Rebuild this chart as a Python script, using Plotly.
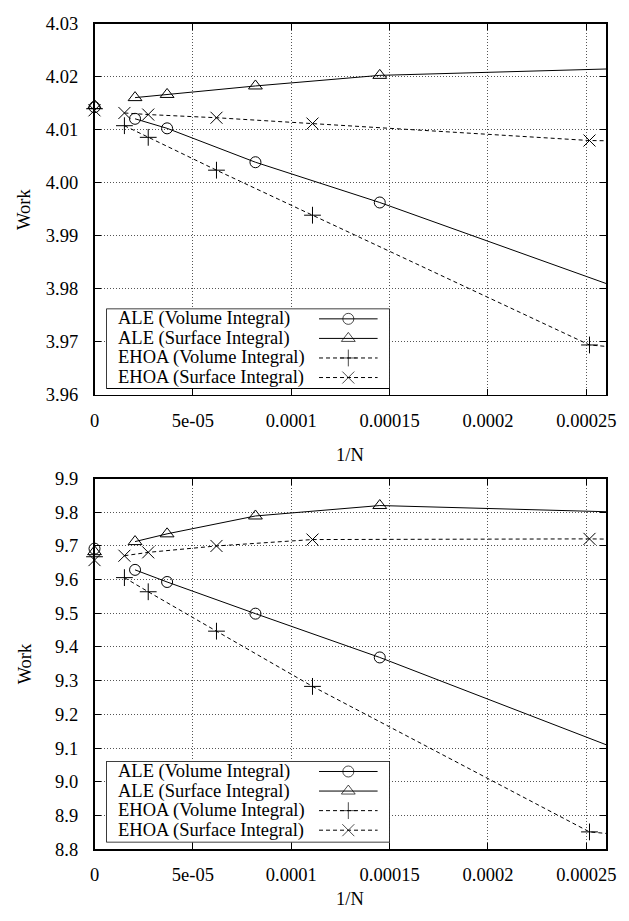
import plotly.graph_objects as go

W, H = 629, 921

# ---------------- data ----------------
x_zero = [0.0]
top_zero = {"ale_vol": 4.0143, "ale_surf": 4.0146, "ehoa_vol": 4.0140, "ehoa_surf": 4.0137}
bot_zero = {"ale_vol": 9.692, "ale_surf": 9.683, "ehoa_vol": 9.668, "ehoa_surf": 9.658}

x_ale = [2.06e-5, 3.69e-5, 8.18e-5, 1.45e-4, 3.27e-4]
x_ehoa = [1.52e-5, 2.73e-5, 6.20e-5, 1.108e-4, 2.516e-4, 5.7e-4]

top_ale_vol = [4.0121, 4.0103, 4.0039, 3.9963, 3.9721]
top_ale_surf = [4.0161, 4.0167, 4.0183, 4.0203, 4.0222]
top_ehoa_vol = [4.0108, 4.0086, 4.0024, 3.9939, 3.9694, 3.9592]
top_ehoa_surf = [4.0132, 4.0129, 4.0123, 4.0112, 4.0080, 4.0062]

bot_ale_vol = [9.629, 9.593, 9.499, 9.369, 8.959]
bot_ale_surf = [9.713, 9.736, 9.789, 9.820, 9.791]
bot_ehoa_vol = [9.606, 9.564, 9.447, 9.283, 8.851, 8.68]
bot_ehoa_surf = [9.671, 9.681, 9.700, 9.719, 9.721, 9.70]

x_ticks = [0, 5e-5, 1e-4, 1.5e-4, 2e-4, 2.5e-4]
x_ticktext = ["0", "5e-05", "0.0001", "0.00015", "0.0002", "0.00025"]
top_yticks = [3.96, 3.97, 3.98, 3.99, 4.00, 4.01, 4.02, 4.03]
top_yticktext = ["3.96", "3.97", "3.98", "3.99", "4.00", "4.01", "4.02", "4.03"]
bot_yticks = [8.8, 8.9, 9.0, 9.1, 9.2, 9.3, 9.4, 9.5, 9.6, 9.7, 9.8, 9.9]
bot_yticktext = ["8.8", "8.9", "9.0", "9.1", "9.2", "9.3", "9.4", "9.5", "9.6", "9.7", "9.8", "9.9"]

legend_names = ["ALE (Volume Integral)", "ALE (Surface Integral)",
                "EHOA (Volume Integral)", "EHOA (Surface Integral)"]

# ---------------- styles ----------------
FONT = "Liberation Serif, Times New Roman, DejaVu Serif, serif"
FS = 18.5
series_style = [
    dict(symbol="circle-open", size=11, dash="solid"),
    dict(symbol="triangle-up-open", size=12, dash="solid"),
    dict(symbol="cross-thin-open", size=12, dash="4px,3px"),
    dict(symbol="x-thin-open", size=12, dash="4px,3px"),
]
keys = ["ale_vol", "ale_surf", "ehoa_vol", "ehoa_surf"]

def px_x(p):
    return p / W

def px_y(p):
    return 1 - p / H

plot_left, plot_right = 91.7, 615.7
panels = [
    dict(top=14.3, bottom=393.3, yr=[3.96, 4.03], yt=top_yticks, ytt=top_yticktext,
         zero=top_zero, series=[top_ale_vol, top_ale_surf, top_ehoa_vol, top_ehoa_surf],
         leg=(103.7, 394.3, 305.0, 387.3), xt_y=455),
    dict(top=479.0, bottom=857.7, yr=[8.8, 9.9], yt=bot_yticks, ytt=bot_yticktext,
         zero=bot_zero, series=[bot_ale_vol, bot_ale_surf, bot_ehoa_vol, bot_ehoa_surf],
         leg=(103.7, 394.3, 767.7, 851.0), xt_y=909),
]

fig = go.Figure()
layout = dict(width=W, height=H, margin=dict(l=0, r=0, t=0, b=0),
              paper_bgcolor="white", plot_bgcolor="rgba(0,0,0,0)", showlegend=False,
              font=dict(family=FONT, size=FS, color="black"))
annotations = []
shapes = []

for i, p in enumerate(panels):
    xa = "x" if i == 0 else f"x{2*i+1}"
    ya = "y" if i == 0 else f"y{2*i+1}"
    lx = f"x{2*i+2}"
    ly = f"y{2*i+2}"
    xs = [x_ale, x_ale, x_ehoa, x_ehoa]
    for k, (key, st) in enumerate(zip(keys, series_style)):
        fig.add_trace(go.Scatter(
            x=xs[k], y=p["series"][k], mode="lines+markers", xaxis=xa, yaxis=ya,
            line=dict(color="black", width=1, dash=st["dash"]),
            marker=dict(symbol=st["symbol"], size=st["size"], color="black",
                        line=dict(color="black", width=1)),
            cliponaxis=True))
        fig.add_trace(go.Scatter(
            x=x_zero, y=[p["zero"][key]], mode="markers", xaxis=xa, yaxis=ya,
            marker=dict(symbol=st["symbol"], size=st["size"], color="black",
                        line=dict(color="black", width=1)),
            cliponaxis=False))
    dom_y = [px_y(p["bottom"]), px_y(p["top"])]
    axkey_x = "xaxis" if i == 0 else f"xaxis{2*i+1}"
    axkey_y = "yaxis" if i == 0 else f"yaxis{2*i+1}"
    common = dict(ticks="inside", ticklen=6, tickcolor="black", mirror="ticks",
                  showline=True, linecolor="black", linewidth=1.6,
                  showgrid=True, gridcolor="#555", griddash="1px,2px", gridwidth=1,
                  zeroline=False, tickfont=dict(family=FONT, size=FS))
    layout[axkey_x] = dict(domain=[px_x(plot_left), px_x(plot_right)], anchor=ya,
                           range=[0, 2.6e-4], tickvals=x_ticks, ticktext=x_ticktext,
                           ticklabelstandoff=8, **common)
    layout[axkey_y] = dict(domain=dom_y, anchor=xa, range=p["yr"],
                           tickvals=p["yt"], ticktext=p["ytt"],
                           ticklabelstandoff=11, **common)
    annotations.append(dict(text="Work", xref="paper", yref="paper",
                            x=px_x(20), y=px_y((p["top"] + p["bottom"]) / 2),
                            textangle=-90, showarrow=False, xanchor="center", yanchor="middle",
                            font=dict(family=FONT, size=FS)))
    annotations.append(dict(text="1/N", xref="paper", yref="paper",
                            x=px_x((plot_left + plot_right) / 2), y=px_y(p["xt_y"]),
                            showarrow=False, xanchor="center", yanchor="middle",
                            font=dict(family=FONT, size=FS)))
    L, R, T, B = p["leg"]
    layout[f"xaxis{2*i+2}"] = dict(domain=[px_x(L), px_x(R)], range=[0, 1], visible=False,
                                   anchor=ly, fixedrange=True)
    layout[f"yaxis{2*i+2}"] = dict(domain=[px_y(B), px_y(T)], range=[0, 1], visible=False,
                                   anchor=lx, fixedrange=True)
    shapes.append(dict(type="rect", xref=lx, yref=ly, x0=0, x1=1, y0=0, y1=1,
                       line=dict(color="black", width=1.6), fillcolor="white", layer="below"))
    row_h = (B - T)
    for k, (name, st) in enumerate(zip(legend_names, series_style)):
        row_px = T + 10.7 + 20 * k
        yv = 1 - (row_px - T) / row_h
        annotations.append(dict(text=name, xref=lx, yref=ly, x=(114 - L) / (R - L), y=yv,
                                showarrow=False, xanchor="left", yanchor="middle",
                                font=dict(family=FONT, size=FS)))
        sx0 = (321.7 - L) / (R - L)
        sx1 = (381.7 - L) / (R - L)
        sxm = (351.7 - L) / (R - L)
        fig.add_trace(go.Scatter(
            x=[sx0, sxm, sx1], y=[yv, yv, yv], mode="lines+markers", xaxis=lx, yaxis=ly,
            line=dict(color="black", width=1, dash=st["dash"]),
            marker=dict(symbol=st["symbol"], size=[0, st["size"], 0], color="black",
                        line=dict(color="black", width=1))))

layout["annotations"] = annotations
layout["shapes"] = shapes
fig.update_layout(**layout)
fig.write_html("out.html",
               config={"displayModeBar": False, "staticPlot": True},
               post_script="document.documentElement.style.margin='0';"
                           "document.body.style.margin='0';"
                           "document.body.style.overflow='hidden';"
                           "document.documentElement.style.overflow='hidden';")
